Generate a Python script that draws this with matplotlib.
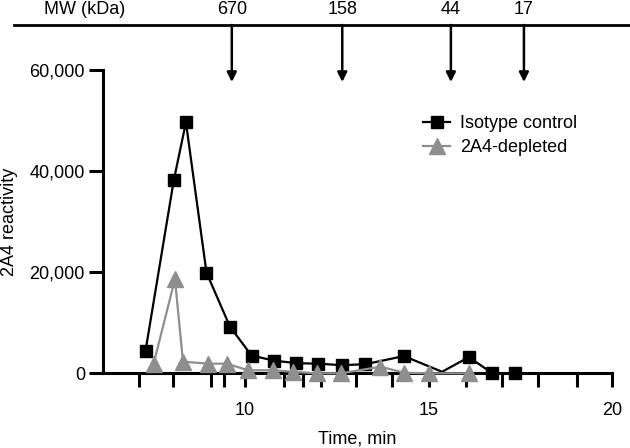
import matplotlib
matplotlib.use("Agg")
import matplotlib.pyplot as plt
from matplotlib.lines import Line2D

plt.rcParams['font.family'] = ['Liberation Sans', 'DejaVu Sans']

# Isotype control (black squares)
iso_time = [7.29, 8.06, 8.39, 8.95, 9.59, 10.18, 10.8, 11.4, 12.0, 12.64, 13.28, 14.33, 15.37, 16.1, 16.74, 17.35]
iso_val = [4500, 38200, 49600, 19900, 9200, 3500, 2500, 2000, 1900, 1600, 1800, 3400, 300, 3200, 0, 50]
iso_marked = [i for i in range(len(iso_time)) if i != 12]  # dip at ~15.4 has no visible marker

# 2A4-depleted (grey triangles)
dep_time = [7.51, 8.09, 8.31, 9.0, 9.5, 10.09, 10.77, 11.32, 11.95, 12.62, 13.69, 14.34, 15.0, 16.1]
dep_val = [1900, 18600, 2300, 1900, 1900, 600, 600, 300, 0, 0, 1300, 100, 0, 0]

# MW markers
mw_labels = ['670', '158', '44', '17']
mw_time = [9.64, 12.65, 15.61, 17.6]

xticks = [7.1, 8.04, 9.07, 9.43, 10, 11.07, 11.58, 12.08, 13.03, 14.0, 15.0, 16.03, 17.0, 17.97, 19.04, 20.0]
xlabels = ['10' if t == 10 else '15' if t == 15.0 else '20' if t == 20.0 else '' for t in xticks]
yticks = [0, 20000, 40000, 60000]
ylabels = ['0', '20,000', '40,000', '60,000']

grey = '#8e8e8e'
fs = 13

fig = plt.figure(figsize=(6.3, 4.48), dpi=100)
ax = fig.add_axes([103 / 630, 1 - 373.3 / 448, (612 - 103) / 630, (373.3 - 69.7) / 448])

ax.plot(iso_time, iso_val, color='black', lw=1.6, marker='s', markersize=8.2,
        markevery=iso_marked, label='Isotype control', clip_on=False, zorder=3)
ax.plot(dep_time, dep_val, color=grey, lw=1.6, marker='^', markersize=11,
        markeredgecolor=grey, label='2A4-depleted', clip_on=False, zorder=4)

ax.set_xlim(6.13, 20)
ax.set_ylim(0, 60000)
ax.set_xticks(xticks)
ax.set_xticklabels(xlabels)
ax.set_yticks(yticks)
ax.set_yticklabels(ylabels)
ax.tick_params(axis='both', width=2.2, length=10, labelsize=fs, direction='out')
ax.tick_params(axis='x', pad=11)
ax.tick_params(axis='y', pad=3)
for s in ['top', 'right']:
    ax.spines[s].set_visible(False)
for s in ['left', 'bottom']:
    ax.spines[s].set_linewidth(2.2)

ax.set_xlabel('Time, min', fontsize=fs, labelpad=8)
ax.set_ylabel('2A4 reactivity', fontsize=fs, labelpad=8)

ax.legend(loc='upper left', bbox_to_anchor=(423 / 630, 1 - 115 / 448),
          bbox_transform=fig.transFigure, frameon=False, fontsize=fs,
          handlelength=1.5, handletextpad=0.55, labelspacing=0.4,
          borderpad=0, borderaxespad=0)

# top MW scale
ytop = 1 - 25 / 448
fig.add_artist(Line2D([14 / 630, 1], [ytop, ytop], transform=fig.transFigure, color='black', lw=2))
fig.text(85 / 630, 1 - 10 / 448, 'MW (kDa)', ha='center', va='center', fontsize=fs)
for lab, t in zip(mw_labels, mw_time):
    ax.annotate('', xy=(t, 1 - 82 / 448), xytext=(t, ytop),
                xycoords=('data', 'figure fraction'), textcoords=('data', 'figure fraction'),
                arrowprops=dict(arrowstyle='-|>', lw=1.8, color='black', mutation_scale=14,
                                shrinkA=0, shrinkB=0), annotation_clip=False)
    ax.annotate(lab, xy=(t, 1 - 10 / 448), xycoords=('data', 'figure fraction'),
                ha='center', va='center', fontsize=fs, annotation_clip=False)

fig.savefig('out.png', dpi=100)
